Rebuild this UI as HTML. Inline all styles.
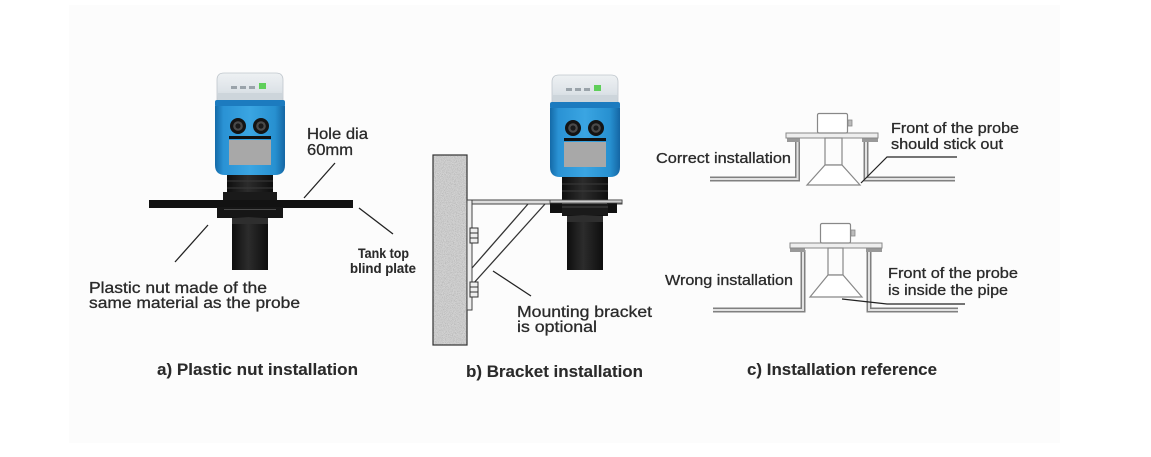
<!DOCTYPE html>
<html><head><meta charset="utf-8"><style>
html,body{margin:0;padding:0;background:#fff;}
svg{display:block;}
text{font-family:"Liberation Sans",sans-serif;fill:#2a2a2a;stroke:#2a2a2a;stroke-width:0.3;}
.b{font-weight:bold;stroke-width:0.1;}
</style></head><body>
<svg width="1151" height="457" viewBox="0 0 1151 457" xmlns="http://www.w3.org/2000/svg">
<defs>
<linearGradient id="blue" x1="0" x2="1" y1="0" y2="0">
<stop offset="0" stop-color="#146aa8"/><stop offset="0.12" stop-color="#2a92d4"/><stop offset="0.5" stop-color="#3aa5e2"/><stop offset="0.86" stop-color="#2790d0"/><stop offset="1" stop-color="#1466a4"/>
</linearGradient>
<linearGradient id="cap" x1="0" x2="0" y1="0" y2="1">
<stop offset="0" stop-color="#eef1f3"/><stop offset="0.6" stop-color="#dde3e8"/><stop offset="1" stop-color="#c9d2d9"/>
</linearGradient>
<linearGradient id="blk" x1="0" x2="1" y1="0" y2="0">
<stop offset="0" stop-color="#0e0e0e"/><stop offset="0.45" stop-color="#2c2c2c"/><stop offset="1" stop-color="#0e0e0e"/>
</linearGradient>
<filter id="tex" x="0" y="0" width="100%" height="100%">
<feTurbulence type="fractalNoise" baseFrequency="1.1" numOctaves="2" seed="5" result="n"/>
<feColorMatrix in="n" type="matrix" values="0 0 0 0 0.45  0 0 0 0 0.45  0 0 0 0 0.45  -2.4 0 0 0 1.45" result="d"/>
<feComposite in="d" in2="SourceGraphic" operator="in" result="dc"/>
<feMerge><feMergeNode in="SourceGraphic"/><feMergeNode in="dc"/></feMerge>
</filter>
<g id="head">
<path d="M217,102 V80 Q217,73 224,73 H276 Q283,73 283,80 V102 Z" fill="url(#cap)" stroke="#bfc6cc" stroke-width="0.8"/>
<rect x="218" y="93" width="64" height="8" fill="#cdd5db"/>
<rect x="231" y="86" width="6" height="3" fill="#9aa3aa"/>
<rect x="240" y="86" width="6" height="3" fill="#9aa3aa"/>
<rect x="249" y="86" width="6" height="3" fill="#9aa3aa"/>
<rect x="259" y="83" width="7" height="6" fill="#5fcf5a"/>
<rect x="215" y="100" width="70" height="7" rx="2" fill="#1c7bbf"/>
<path d="M215,106 H285 V165 Q285,175 275,175 H225 Q215,175 215,165 Z" fill="url(#blue)"/>
<circle cx="238" cy="126" r="8" fill="#141414"/>
<circle cx="238" cy="126" r="4.8" fill="#4a4a4a"/>
<circle cx="238" cy="126" r="2.6" fill="#1a1a1a"/>
<circle cx="261" cy="126" r="8" fill="#141414"/>
<circle cx="261" cy="126" r="4.8" fill="#4a4a4a"/>
<circle cx="261" cy="126" r="2.6" fill="#1a1a1a"/>
<rect x="229" y="136" width="42" height="3" fill="#111"/>
<rect x="229" y="140" width="42" height="25" fill="#a8a8a8"/>
</g>
</defs>

<rect x="69" y="5" width="991" height="438" fill="#fcfcfc"/>

<!-- ===== Panel a ===== -->
<use href="#head"/>
<rect x="227" y="175" width="46" height="20" fill="url(#blk)"/>
<line x1="227" y1="181" x2="273" y2="181" stroke="#3a3a3a" stroke-width="1"/>
<line x1="227" y1="188" x2="273" y2="188" stroke="#3a3a3a" stroke-width="1"/>
<rect x="223" y="192" width="54" height="8" fill="#1a1a1a"/>
<rect x="149" y="200" width="204" height="8" fill="#121212"/>
<rect x="217" y="207" width="66" height="11" fill="#161616"/>
<line x1="224" y1="209.5" x2="276" y2="209.5" stroke="#4a4a4a" stroke-width="1"/>
<rect x="232" y="217" width="36" height="53" fill="url(#blk)"/>
<rect x="232" y="218" width="36" height="6" fill="#2e2e2e"/>

<line x1="304" y1="198" x2="335" y2="163" stroke="#222" stroke-width="1.3"/>
<line x1="359" y1="208" x2="393" y2="234" stroke="#222" stroke-width="1.3"/>
<line x1="208" y1="225" x2="175" y2="262" stroke="#222" stroke-width="1.3"/>

<text x="307" y="139" font-size="16" textLength="61" lengthAdjust="spacingAndGlyphs">Hole dia</text>
<text x="307" y="155" font-size="16" textLength="46" lengthAdjust="spacingAndGlyphs">60mm</text>
<text class="b" x="358" y="258" font-size="14" textLength="51" lengthAdjust="spacingAndGlyphs" fill="#111">Tank top</text>
<text class="b" x="350" y="273" font-size="14" textLength="66" lengthAdjust="spacingAndGlyphs" fill="#111">blind plate</text>
<text x="89" y="293" font-size="16" textLength="178" lengthAdjust="spacingAndGlyphs">Plastic nut made of the</text>
<text x="89" y="308" font-size="16" textLength="211" lengthAdjust="spacingAndGlyphs">same material as the probe</text>
<text class="b" x="157" y="375" font-size="17" textLength="201" lengthAdjust="spacingAndGlyphs">a) Plastic nut installation</text>

<!-- ===== Panel b ===== -->
<rect x="433" y="155" width="34" height="190" fill="#d2d2d2" filter="url(#tex)"/>
<rect x="433" y="155" width="34" height="190" fill="none" stroke="#333" stroke-width="1.2"/>
<rect x="467" y="200" width="5" height="110" fill="#eee" stroke="#444" stroke-width="1"/>
<rect x="472" y="200" width="150" height="4" fill="#ddd" stroke="#444" stroke-width="1"/>
<line x1="472" y1="268" x2="528" y2="204" stroke="#333" stroke-width="1.3"/>
<line x1="472" y1="285" x2="545" y2="204" stroke="#333" stroke-width="1.3"/>
<rect x="470" y="228" width="8" height="15" fill="#eee" stroke="#333" stroke-width="1"/>
<line x1="470" y1="233" x2="478" y2="233" stroke="#333"/><line x1="470" y1="238" x2="478" y2="238" stroke="#333"/>
<rect x="470" y="282" width="8" height="15" fill="#eee" stroke="#333" stroke-width="1"/>
<line x1="470" y1="287" x2="478" y2="287" stroke="#333"/><line x1="470" y1="292" x2="478" y2="292" stroke="#333"/>

<use href="#head" transform="translate(335,2)"/>
<rect x="562" y="177" width="46" height="24" fill="url(#blk)"/>
<line x1="562" y1="184" x2="608" y2="184" stroke="#3a3a3a"/>
<line x1="562" y1="191" x2="608" y2="191" stroke="#3a3a3a"/>
<rect x="550" y="203" width="12" height="10" fill="#111"/>
<rect x="607" y="203" width="10" height="10" fill="#111"/>
<rect x="562" y="204" width="46" height="12" fill="#1a1a1a"/>
<line x1="562" y1="207" x2="608" y2="207" stroke="#444"/>
<rect x="567" y="215" width="36" height="55" fill="url(#blk)"/>
<rect x="567" y="216" width="36" height="6" fill="#2e2e2e"/>
<rect x="550" y="200" width="72" height="3" fill="#ccc" stroke="#444" stroke-width="0.8"/>

<line x1="493" y1="271" x2="531" y2="296" stroke="#222" stroke-width="1.3"/>
<text x="517" y="317" font-size="16" textLength="135" lengthAdjust="spacingAndGlyphs">Mounting bracket</text>
<text x="517" y="332" font-size="16" textLength="80" lengthAdjust="spacingAndGlyphs">is optional</text>
<text class="b" x="466" y="377" font-size="17" textLength="177" lengthAdjust="spacingAndGlyphs">b) Bracket installation</text>

<!-- ===== Panel c : correct ===== -->
<g fill="none" stroke-linejoin="miter">
<path d="M710,179 H797.5 V139" stroke="#808080" stroke-width="5"/>
<path d="M710,179 H797.5 V139" stroke="#e2e2e2" stroke-width="2"/>
<path d="M866,139 V179 H955" stroke="#808080" stroke-width="5"/>
<path d="M866,139 V179 H955" stroke="#e2e2e2" stroke-width="2"/>
</g>
<rect x="787" y="138" width="13" height="4" fill="#999"/>
<rect x="862" y="138" width="16" height="4" fill="#999"/>
<rect x="786" y="133" width="92" height="5" fill="#eee" stroke="#888" stroke-width="1"/>
<rect x="817.5" y="113.5" width="30" height="19.5" rx="1.5" fill="#fff" stroke="#888" stroke-width="1.2"/>
<rect x="848" y="120" width="4" height="6" fill="#bbb" stroke="#888" stroke-width="0.8"/>
<rect x="825" y="138" width="17" height="27" fill="none" stroke="#888" stroke-width="1.2"/>
<polygon points="825,165 842,165 860,185 807,185" fill="#fff" stroke="#888" stroke-width="1.2"/>
<polyline points="861,183 887,157 957,157" fill="none" stroke="#222" stroke-width="1.2"/>
<text x="656" y="163" font-size="15" textLength="135" lengthAdjust="spacingAndGlyphs">Correct installation</text>
<text x="891" y="133" font-size="15" textLength="128" lengthAdjust="spacingAndGlyphs">Front of the probe</text>
<text x="891" y="149" font-size="15" textLength="112" lengthAdjust="spacingAndGlyphs">should stick out</text>

<!-- ===== Panel c : wrong ===== -->
<g fill="none">
<path d="M713,310 H803 V250" stroke="#808080" stroke-width="5"/>
<path d="M713,310 H803 V250" stroke="#e2e2e2" stroke-width="2"/>
<path d="M869,250 V310 H958" stroke="#808080" stroke-width="5"/>
<path d="M869,250 V310 H958" stroke="#e2e2e2" stroke-width="2"/>
</g>
<rect x="790" y="248" width="15" height="4" fill="#999"/>
<rect x="866" y="248" width="16" height="4" fill="#999"/>
<rect x="790" y="243" width="92" height="5" fill="#eee" stroke="#888" stroke-width="1"/>
<rect x="820.5" y="223.5" width="30" height="19.5" rx="1.5" fill="#fff" stroke="#888" stroke-width="1.2"/>
<rect x="851" y="230" width="4" height="6" fill="#bbb" stroke="#888" stroke-width="0.8"/>
<rect x="828" y="248" width="15" height="27" fill="none" stroke="#888" stroke-width="1.2"/>
<polygon points="828,275 843,275 862,297 810,297" fill="#fff" stroke="#888" stroke-width="1.2"/>
<polyline points="842,299 887,304 965,304" fill="none" stroke="#222" stroke-width="1.2"/>
<text x="665" y="285" font-size="15" textLength="128" lengthAdjust="spacingAndGlyphs">Wrong installation</text>
<text x="888" y="278" font-size="15" textLength="130" lengthAdjust="spacingAndGlyphs">Front of the probe</text>
<text x="888" y="295" font-size="15" textLength="120" lengthAdjust="spacingAndGlyphs">is inside the pipe</text>

<text class="b" x="747" y="375" font-size="17" textLength="190" lengthAdjust="spacingAndGlyphs">c) Installation reference</text>
</svg>
</body></html>
